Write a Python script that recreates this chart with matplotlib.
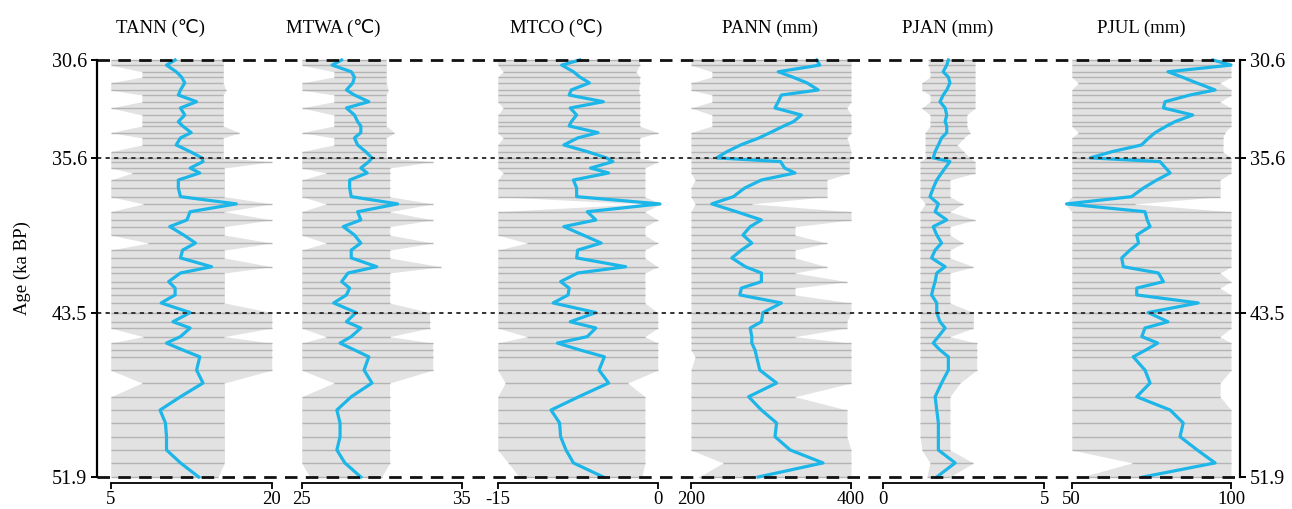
import numpy as np
import matplotlib.pyplot as plt

plt.rcParams['font.family'] = ['Liberation Serif', 'DejaVu Sans']

# sample ages (ka BP)
age = [30.60, 30.86, 31.20, 31.47, 31.77, 32.13, 32.39, 32.73, 33.05, 33.41,
       33.75, 33.97, 34.31, 34.58, 34.94, 35.28, 35.60, 35.79, 36.12, 36.37,
       36.73, 37.14, 37.58, 37.95, 38.35, 38.77, 39.11, 39.54, 39.95, 40.31,
       40.71, 41.16, 41.48, 41.92, 42.25, 42.60, 43.01, 43.50, 43.97, 44.29,
       44.73, 45.06, 45.41, 45.76, 46.44, 47.10, 47.80, 48.48, 49.14, 49.84,
       50.52, 51.18, 51.90]

# TANN (deg C)
tann_mean = [11.0, 10.2, 11.1, 11.6, 11.9, 11.5, 11.3, 13.0, 11.5, 11.9,
             11.3, 11.7, 12.5, 11.5, 11.1, 12.4, 13.5, 13.6, 12.4, 13.3,
             11.3, 11.3, 11.5, 16.7, 12.4, 12.1, 10.5, 11.8, 12.9, 11.7,
             11.5, 14.4, 11.5, 10.4, 11.0, 11.0, 9.7, 12.4, 10.8, 12.4,
             11.5, 10.2, 11.7, 13.3, 13.0, 13.6, 11.5, 9.6, 10.1, 10.2,
             10.2, 11.5, 13.2]
tann_min = [5, 5, 7.9, 7.9, 5, 5, 7.9, 7.9, 5, 7.9,
            7.9, 7.9, 5, 7.9, 7.9, 5, 5, 5, 5, 7.0,
            5, 5, 5, 8.0, 5, 5, 5, 5, 8.5, 5,
            5, 5, 5, 5, 5, 5, 5, 5, 5, 5,
            8.0, 5, 5, 5, 5, 7.9, 5, 5, 5, 5,
            5, 5, 5]
tann_max = [15.5, 15.5, 15.5, 15.5, 15.5, 15.7, 15.5, 15.5, 15.5, 15.5,
            15.5, 15.5, 17.0, 15.5, 15.5, 15.5, 15.5, 20.0, 15.6, 15.6,
            15.6, 15.6, 15.6, 20.0, 15.6, 20.0, 15.6, 15.6, 20.0, 15.6,
            15.6, 20.0, 15.6, 15.6, 15.6, 15.6, 15.6, 20.0, 20.0, 20.0,
            15.6, 20.0, 20.0, 20.0, 20.0, 15.6, 15.6, 15.6, 15.6, 15.6,
            15.6, 15.6, 15.0]

# MTWA (deg C)
mtwa_mean = [27.5, 26.9, 28.1, 28.3, 28.2, 27.8, 28.3, 29.2, 27.8, 28.3,
             28.5, 28.7, 28.7, 28.3, 28.5, 29.0, 29.4, 29.2, 28.7, 29.1,
             28.0, 28.0, 28.1, 31.0, 28.5, 28.7, 27.6, 28.3, 28.7, 28.1,
             28.1, 29.7, 27.9, 27.5, 28.0, 27.8, 27.0, 28.4, 27.8, 28.7,
             28.1, 27.4, 28.3, 29.2, 28.9, 29.4, 28.1, 27.2, 27.4, 27.4,
             27.2, 27.7, 28.7]
mtwa_min = [25, 25, 27.0, 27.0, 25, 25, 27.0, 27.0, 25, 27.0,
            27.0, 27.0, 25, 27.0, 27.0, 25, 25, 25, 25, 26.5,
            25, 25, 25, 26.5, 25, 25, 25, 25, 26.5, 25,
            25, 25, 25, 25, 25, 25, 25, 25, 25, 25,
            26.5, 25, 25, 25, 25, 27.0, 25, 25, 25, 25,
            25, 25, 25.5]
mtwa_max = [30.3, 30.3, 30.3, 30.3, 30.3, 30.4, 30.3, 30.3, 30.3, 30.3,
            30.3, 30.3, 30.8, 30.3, 30.3, 30.3, 30.3, 33.2, 30.5, 30.5,
            30.5, 30.5, 30.5, 33.2, 30.5, 33.2, 30.5, 30.5, 33.2, 30.5,
            30.5, 33.7, 30.5, 30.5, 30.5, 30.5, 30.5, 33.0, 33.0, 33.0,
            30.5, 33.2, 33.2, 33.2, 33.2, 30.5, 30.5, 30.5, 30.5, 30.5,
            30.5, 30.5, 30.0]

# MTCO (deg C)
mtco_mean = [-7.3, -9.0, -7.9, -7.3, -6.4, -8.1, -8.3, -5.1, -8.2, -7.6,
             -8.1, -8.3, -5.6, -7.5, -8.8, -6.6, -4.8, -4.2, -6.3, -4.6,
             -7.9, -7.6, -7.6, 0.2, -6.6, -5.8, -8.8, -7.0, -5.3, -7.5,
             -7.6, -3.0, -7.5, -9.1, -8.3, -8.4, -9.8, -5.8, -8.2, -5.8,
             -6.6, -9.4, -7.3, -5.0, -5.5, -4.6, -7.4, -10.0, -9.2, -9.1,
             -8.6, -7.9, -5.1]
mtco_min = [-15, -15, -14.5, -15, -15, -15, -15, -15, -14.5, -15,
            -15, -15, -15, -14.5, -15, -15, -15, -15, -15, -14.5,
            -15, -15, -15, -1.5, -15, -15, -15, -15, -12.3, -15,
            -15, -15, -15, -15, -15, -15, -15, -15, -15, -15,
            -12.3, -15, -15, -15, -15, -14.3, -15, -15, -15, -15,
            -15, -14.0, -13.0]
mtco_max = [-1.7, -1.7, -2.0, -1.7, -1.7, -1.8, -1.7, -1.7, -1.7, -1.7,
            -1.7, -1.7, 0.0, -1.7, -1.7, -1.7, -1.7, 0.0, -1.2, -1.2,
            -1.2, -1.2, -1.2, 0.3, -1.2, 0.0, -1.2, -1.2, 0.0, -1.2,
            -1.2, 0.0, -1.2, -1.2, -1.2, -1.2, -1.2, 0.0, 0.0, 0.0,
            -1.2, 0.0, 0.0, 0.0, 0.0, -2.8, -1.2, -1.2, -1.2, -1.2,
            -1.2, -1.2, -1.5]

# PANN (mm)
pann_mean = [357, 361, 309, 327, 345, 359, 313, 309, 305, 338,
             328, 316, 299, 285, 262, 245, 232, 312, 317, 330,
             288, 267, 253, 226, 257, 288, 274, 265, 276, 263,
             251, 268, 288, 288, 263, 261, 313, 290, 288, 274,
             276, 276, 280, 282, 286, 307, 272, 288, 307, 305,
             324, 365, 284]
pann_min = [200, 200, 226, 226, 200, 200, 226, 226, 200, 226,
            226, 226, 200, 200, 200, 200, 200, 200, 200, 200,
            205, 200, 200, 205, 200, 200, 200, 200, 200, 200,
            200, 200, 200, 200, 200, 200, 200, 200, 200, 200,
            200, 200, 200, 205, 200, 200, 200, 200, 200, 200,
            200, 240, 210]
pann_max = [400, 400, 400, 400, 400, 400, 400, 400, 395, 400,
            400, 400, 400, 395, 398, 400, 400, 398, 398, 398,
            370, 370, 370, 276, 400, 400, 330, 330, 370, 330,
            330, 370, 330, 395, 330, 330, 400, 400, 395, 395,
            330, 400, 400, 400, 400, 400, 330, 395, 395, 395,
            400, 400, 400]

# PJAN (mm)
pjan_mean = [2.02, 1.97, 1.86, 2.02, 2.07, 1.97, 1.86, 1.76, 1.92, 1.97,
             1.92, 1.97, 1.97, 1.81, 1.71, 1.61, 1.55, 2.07, 1.92, 1.81,
             1.66, 1.55, 1.45, 1.71, 1.61, 1.97, 1.55, 1.66, 1.81, 1.61,
             1.50, 1.92, 1.66, 1.61, 1.55, 1.50, 1.66, 1.66, 1.76, 1.92,
             1.71, 1.55, 1.76, 2.02, 2.02, 1.81, 1.61, 1.66, 1.71, 1.71,
             1.71, 2.23, 1.66]
pjan_min = [1.40, 1.40, 1.45, 1.45, 1.19, 1.19, 1.45, 1.45, 1.19, 1.45,
            1.45, 1.45, 1.30, 1.30, 1.30, 1.30, 1.30, 1.14, 1.14, 1.14,
            1.14, 1.14, 1.14, 1.30, 1.14, 1.14, 1.14, 1.14, 1.14, 1.14,
            1.14, 1.14, 1.14, 1.14, 1.14, 1.14, 1.14, 1.14, 1.14, 1.14,
            1.14, 1.14, 1.14, 1.14, 1.14, 1.14, 1.14, 1.14, 1.14, 1.14,
            1.20, 1.45, 1.35]
pjan_max = [2.85, 2.85, 2.85, 2.85, 2.85, 2.85, 2.85, 2.85, 2.85, 2.59,
            2.59, 2.59, 2.69, 2.50, 2.30, 2.50, 2.69, 2.85, 2.85, 2.85,
            2.07, 2.07, 2.07, 2.48, 2.07, 2.85, 2.07, 2.07, 2.48, 2.07,
            2.07, 2.80, 2.07, 2.07, 2.07, 2.07, 2.07, 2.80, 2.80, 2.80,
            2.07, 2.90, 2.90, 2.90, 2.90, 2.38, 2.07, 2.07, 2.07, 2.07,
            2.07, 2.80, 2.07]

# PJUL (mm)
pjul_mean = [94.3, 100.0, 80.2, 84.6, 89.2, 95.0, 87.1, 79.3, 78.8, 88.0,
             82.4, 79.8, 76.2, 74.2, 71.9, 62.7, 55.8, 77.7, 79.5, 80.9,
             76.7, 72.5, 68.8, 48.4, 73.0, 73.7, 74.6, 70.4, 71.0, 68.3,
             65.7, 66.2, 77.2, 78.8, 70.4, 70.4, 89.7, 74.0, 80.2, 73.0,
             72.0, 77.0, 73.3, 69.3, 73.0, 74.6, 70.4, 80.9, 85.0, 84.0,
             89.4, 95.0, 72.4]
pjul_min = [50, 50, 50, 50, 52, 50, 50, 50, 50, 50,
            50, 50, 52, 50, 50, 50, 50, 50, 50, 50,
            50, 50, 50, 48, 50, 50, 50, 50, 50, 50,
            50, 50, 50, 50, 50, 50, 50, 50, 50, 50,
            50, 50, 50, 50, 50, 50, 50, 50, 50, 50,
            50, 69, 53]
pjul_max = [100, 100, 100, 100, 96.6, 100, 100, 96.6, 100, 100,
            100, 100, 98, 97.5, 97.5, 97.5, 100, 100, 100, 100,
            96.6, 96.6, 96.6, 70, 100, 100, 100, 100, 100, 100,
            100, 100, 96.6, 100, 96.6, 100, 100, 100, 100, 100,
            96.6, 100, 100, 100, 100, 96.6, 96.6, 100, 100, 100,
            100, 100, 100]

titles = ['TANN (℃)', 'MTWA (℃)', 'MTCO (℃)', 'PANN (mm)', 'PJAN (mm)', 'PJUL (mm)']
xlims = [(5, 20), (25, 35), (-15, 0), (200, 400), (0, 5), (50, 100)]
means = [tann_mean, mtwa_mean, mtco_mean, pann_mean, pjan_mean, pjul_mean]
mins = [tann_min, mtwa_min, mtco_min, pann_min, pjan_min, pjul_min]
maxs = [tann_max, mtwa_max, mtco_max, pann_max, pjan_max, pjul_max]
age_ticks = [30.6, 35.6, 43.5, 51.9]

# layout in pixels
W, H = 1292, 509
y_top, y_bot = 60, 477
panel_px = [(110.7, 271.7), (301.7, 461.5), (497.7, 657.7),
            (691, 851), (883.3, 1044.3), (1071.7, 1231)]
title_px = [161, 333, 556, 770, 948, 1141]

fig = plt.figure(figsize=(W / 100, H / 100), dpi=100)
bottom = (H - y_bot) / H
height = (y_bot - y_top) / H

grey_fill = '#e2e2e2'
grey_line = '#b4b4b4'
blue = '#1db6e8'

for k in range(6):
    x0, x1 = panel_px[k]
    ax = fig.add_axes([x0 / W, bottom, (x1 - x0) / W, height])
    ax.patch.set_alpha(0)
    lo, hi = mins[k], maxs[k]
    ax.fill_betweenx(age, lo, hi, color=grey_fill, lw=0, clip_on=False)
    ax.hlines(age, lo, hi, color=grey_line, lw=1.0, clip_on=False)
    ax.plot(means[k], age, color=blue, lw=2.3, clip_on=False, zorder=5)
    ax.set_xlim(*xlims[k])
    ax.set_ylim(51.9, 30.6)
    for s in ['top', 'left', 'right']:
        ax.spines[s].set_visible(False)
    ax.spines['bottom'].set_position(('outward', 4.3))
    ax.spines['bottom'].set_linewidth(1.3)
    ax.set_yticks([])
    ax.set_xticks(list(xlims[k]))
    ax.set_xticklabels([str(v) for v in xlims[k]])
    ax.tick_params(axis='x', direction='out', length=4.5, width=1.3,
                   labelsize=13.5, pad=1.5)
    fig.text(title_px[k] / W, 1 - 28 / H, titles[k], ha='center', va='center',
             fontsize=13.5)

# shared age frame with dashed/dotted marker lines
fx0, fx1 = 97, 1240
frame = fig.add_axes([fx0 / W, bottom, (fx1 - fx0) / W, height], zorder=10)
frame.patch.set_alpha(0)
frame.set_ylim(51.9, 30.6)
frame.set_xlim(0, 1)
frame.spines['top'].set_visible(False)
frame.spines['bottom'].set_visible(False)
frame.spines['left'].set_linewidth(1.6)
frame.spines['right'].set_linewidth(1.6)
frame.set_xticks([])
frame.set_yticks(age_ticks)
frame.set_yticklabels([str(v) for v in age_ticks])
frame.tick_params(axis='y', left=True, right=True, labelleft=True,
                  labelright=True, direction='out', length=4, width=1.4,
                  labelsize=14.5, pad=3)
for a in [30.6, 51.9]:
    frame.axhline(a, color='#111111', lw=2.0, ls=(0, (4.5, 3)), clip_on=False)
for a in [35.6, 43.5]:
    frame.axhline(a, color='#333333', lw=1.4, ls=(0, (2.2, 2.2)), clip_on=False)

fig.text(22 / W, 1 - 268 / H, 'Age (ka BP)', rotation=90, ha='center',
         va='center', fontsize=13.5)

fig.savefig('out.png', dpi=100)
